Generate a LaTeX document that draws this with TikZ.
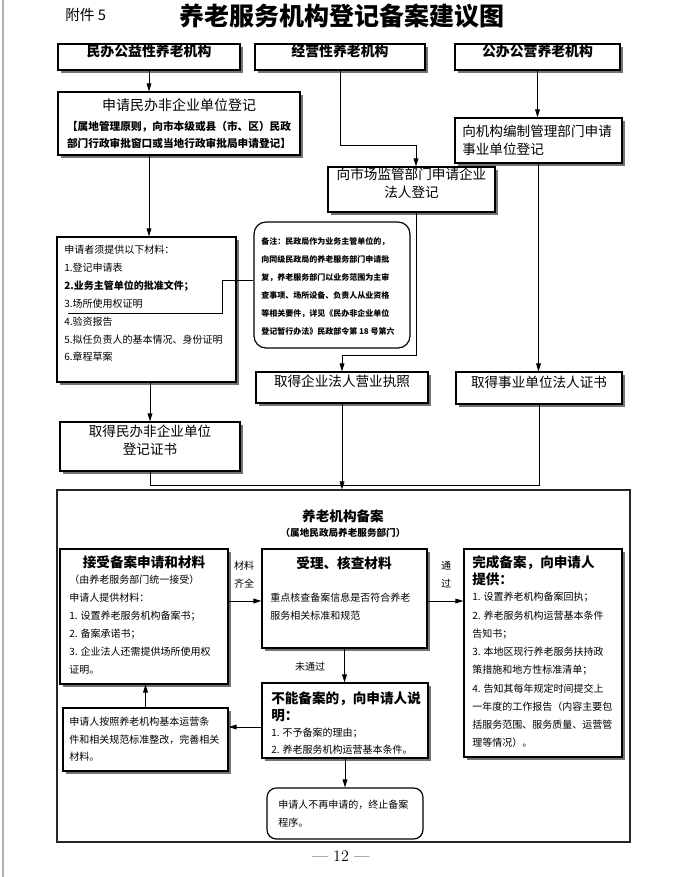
\documentclass[tikz,border=0pt]{standalone}
\usepackage{fontspec}
\newfontfamily\cjk{Noto Sans CJK SC}
\usetikzlibrary{fit,shadows,arrows.meta}
\newcommand\fszbody{\cjk\fontsize{7.5}{13.4}\selectfont}
\newcommand\fszbox{\cjk\fontsize{10.2}{13.5}\selectfont}
\newcommand\fszhead{\cjk\fontsize{10.2}{12.75}\selectfont\bfseries}
\begin{document}
\begin{tikzpicture}[x=0.75pt,y=-0.75pt,
  box/.style={draw=black, line width=0.9pt, fill=white, inner sep=0pt},
  shbox/.style={box, drop shadow={shadow xshift=2.25pt, shadow yshift=-2.25pt, fill=black!55, opacity=1}},
  rbox/.style={box, rounded corners=9pt},
  arr/.style={line width=0.6pt, -{Triangle[length=6pt,width=3.6pt]}},
  ln/.style={line width=0.6pt},
  txt/.style={inner sep=0pt, align=left, anchor=north west},
  ctxt/.style={inner sep=0pt, align=center},
]
\useasboundingbox (0,0) rectangle (677,877);
\fill[white] (0,0) rectangle (677,877);
\draw[black!30, line width=1.2pt] (3,0) -- (3,877);

% title
\node[ctxt, font=\cjk\fontsize{18.75}{20}\selectfont\bfseries] (title) at (342,16) {养老服务机构登记备案建议图};
\node[inner sep=0pt, anchor=west, font=\cjk\fontsize{11}{12}\selectfont] (fj) at (65,15) {附件 5};

% top boxes
\node[shbox, fit={(58,44)(240,70)}, font=\cjk\fontsize{10.4}{12}\selectfont\bfseries] (top1) {民办公益性养老机构};
\node[shbox, fit={(255,44)(425,70)}, font=\cjk\fontsize{10.4}{12}\selectfont\bfseries] (top2) {经营性养老机构};
\node[shbox, fit={(455,44)(620,70)}, font=\cjk\fontsize{10.4}{12}\selectfont\bfseries] (top3) {公办公营养老机构};

% left column
\node[shbox, fit={(58,92)(300,155)}] (shen) {};
\node[ctxt, font=\cjk\fontsize{10.5}{12}\selectfont] (shen-t) at (179,105) {申请民办非企业单位登记};
\node[ctxt, font=\cjk\fontsize{8}{12.75}\selectfont\bfseries] (shen-b) at (179,134.5) {【属地管理原则，向市本级或县（市、区）民政\\部门行政审批窗口或当地行政审批局申请登记】};

\node[shbox, fit={(57,237)(236,382)}] (mat) {};
\node[txt, font=\fszbody\linespread{1}] (mat-t) at (64,245) {申请者须提供以下材料：\\1.登记申请表\\\textbf{2.业务主管单位的批准文件；}\\3.场所使用权证明\\4.验资报告\\5.拟任负责人的基本情况、身份证明\\6.章程草案};

\node[rbox, rounded corners=9pt, fit={(254,222)(410,348)}] (note) {};
\node[txt, font=\cjk\fontsize{6}{13.5}\selectfont\bfseries] (note-t) at (261,237) {备注：民政局作为业务主管单位的，\\向同级民政局的养老服务部门申请批\\复，养老服务部门以业务范围为主审\\查事项、场所设备、负责人从业资格\\等相关要件，详见《民办非企业单位\\登记暂行办法》民政部令第 18 号第六};

\node[shbox, fit={(60,422)(240,471)}, font=\fszbox, align=center] (qude) {取得民办非企业单位\\登记证书};

% middle and right columns
\node[shbox, fit={(328,167)(495,212)}, font=\fszbox, align=center] (shichang) {向市场监管部门申请企业\\法人登记};
\node[shbox, fit={(455,118)(622,163)}] (bianzhi) {};
\node[txt, font=\fszbox] (bianzhi-t) at (462,125) {向机构编制管理部门申请\\事业单位登记};
\node[shbox, fit={(256,372)(428,403)}, font=\fszbox] (zhizhao) {取得企业法人营业执照};
\node[shbox, fit={(456,372)(622,404)}, font=\fszbox] (shiye) {取得事业单位法人证书};

% connectors upper part
\coordinate (j2) at (416,145);
\coordinate (j3) at (416,355);
\coordinate (j4) at (150,485);
\coordinate (n0) at (254,280);
\coordinate (nb) at (222,313);
\coordinate (ne) at (68,313);
\draw[arr] (top1.south) -- (top1.south |- shen.north);
\draw[arr] (top1.south |- shen.south) -- (top1.south |- mat.north);
\draw[arr] (top2.south) |- (j2) -- (j2 |- shichang.north);
\draw[arr] (top3.south) -- (top3.south |- bianzhi.north);
\draw[arr] (j2 |- shichang.south) -- (j3) -| (zhizhao.north);
\draw[arr] (bianzhi.south) -- (bianzhi.south |- shiye.north);
\draw[ln] (note.west |- n0) -| (nb) -- (ne);
\draw[arr] (j4 |- mat.south) -- (j4 |- qude.north);
\draw[ln] (j4 |- qude.south) -- (j4) -| (shiye.south);

% frame
\node[draw=black!85, line width=0.9pt, inner sep=0pt, fit={(57,490)(630,842)}] (frame) {};
\draw[arr] (zhizhao.south) -- (zhizhao.south |- frame.north);
\node[ctxt, font=\cjk\fontsize{10.2}{12}\selectfont\bfseries] (fr-t) at (343,516) {养老机构备案};
\node[ctxt, font=\cjk\fontsize{7.2}{9}\selectfont\bfseries] (fr-s) at (343,533) {（属地民政局养老服务部门）};

% box A
\node[shbox, fit={(60,549)(228,684)}] (A) {};
\node[ctxt, font=\fszhead] (A-h) at (144,562) {接受备案申请和材料};
\node[txt, font=\fszbody] (A-b) at (69,575) {（由养老服务部门统一接受）\\申请人提供材料：\\1. 设置养老服务机构备案书；\\2. 备案承诺书；\\3. 企业法人还需提供场所使用权\\证明。};

% box B
\node[shbox, fit={(262,549)(427,648)}] (B) {};
\node[ctxt, font=\fszhead] (B-h) at (344,563) {受理、核查材料};
\node[txt, font=\cjk\fontsize{7.5}{13.5}\selectfont] (B-b) at (270,593) {重点核查备案信息是否符合养老\\服务相关标准和规范};

% box C
\node[shbox, fit={(464,549)(622,757)}] (C) {};
\node[txt, font=\fszhead] (C-h) at (472,555) {完成备案，向申请人\\提供：};
\node[txt, font=\cjk\fontsize{7.5}{13.7}\selectfont] (C-b) at (472,592) {1. 设置养老机构备案回执；\\2. 养老服务机构运营基本条件\\告知书；\\3. 本地区现行养老服务扶持政\\策措施和地方性标准清单；\\4. 告知其每年规定时间提交上\\一年度的工作报告（内容主要包\\括服务范围、服务质量、运营管\\理等情况）。};

% box D
\node[shbox, fit={(262,683)(428,758)}] (D) {};
\node[txt, font=\fszhead] (D-h) at (271,691) {不能备案的，向申请人说\\明：};
\node[txt, font=\cjk\fontsize{7.5}{12.75}\selectfont] (D-b) at (271,728) {1. 不予备案的理由；\\2. 养老服务机构运营基本条件。};

% box E
\node[shbox, fit={(63,708)(228,771)}] (E) {};
\node[txt, font=\cjk\fontsize{7.5}{13.1}\selectfont] (E-b) at (69,717) {申请人按照养老机构基本运营条\\件和相关规范标准整改，完善相关\\材料。};

% box F
\node[rbox, rounded corners=7pt, fit={(267,788)(423,839)}] (F) {};
\node[txt, font=\cjk\fontsize{7.5}{13.5}\selectfont] (F-b) at (278,800) {申请人不再申请的，终止备案\\程序。};

% labels
\node[ctxt, font=\cjk\fontsize{7.5}{13.5}\selectfont] (l-cl) at (244,575) {材料\\齐全};
\node[ctxt, font=\cjk\fontsize{7.5}{13.5}\selectfont] (l-tg) at (446,575) {通\\过};
\node[ctxt, font=\cjk\fontsize{7.5}{9}\selectfont] (l-wtg) at (310,667) {未通过};

% connectors lower part
\coordinate (yab) at (0,601);
\coordinate (yde) at (0,727);
\draw[arr] (A.east |- yab) -- (B.west |- yab);
\draw[arr] (B.east |- yab) -- (C.west |- yab);
\draw[arr] (B.south) -- (B.south |- D.north);
\draw[arr] (D.west |- yde) -- (E.east |- yde);
\draw[arr] (E.north) -- (E.north |- A.south);
\draw[arr] (D.south) -- (D.south |- F.north);

% page number
\node[inner sep=0pt, font=\rmfamily\fontsize{12}{14}\selectfont] (pg) at (341,856) {— 12 —};
\end{tikzpicture}
\end{document}
